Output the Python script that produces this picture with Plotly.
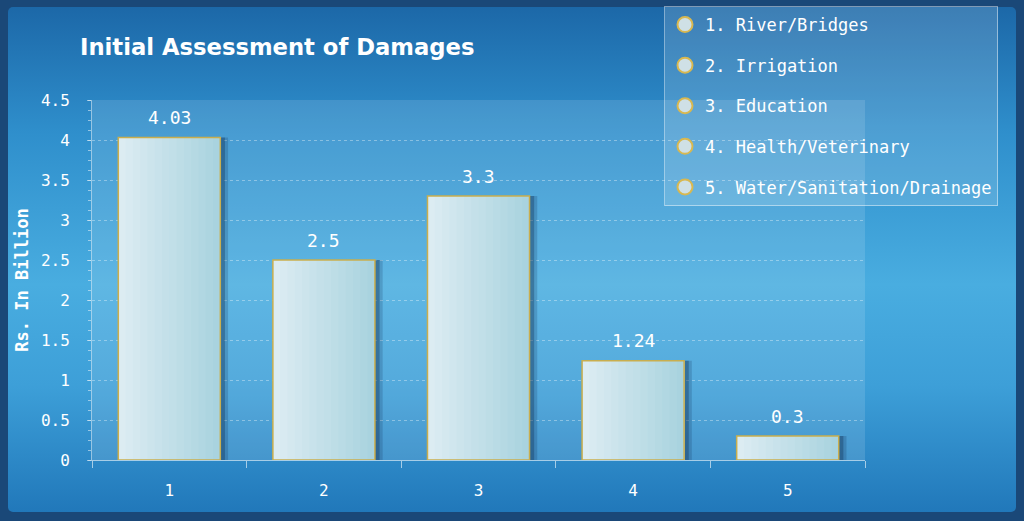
import base64
import plotly.graph_objects as go

# ---- data ----
categories = ["1", "2", "3", "4", "5"]
values = [4.03, 2.5, 3.3, 1.24, 0.3]
value_labels = ["4.03", "2.5", "3.3", "1.24", "0.3"]
legend_names = ["1. River/Bridges", "2. Irrigation", "3. Education",
                "4. Health/Veterinary", "5. Water/Sanitation/Drainage"]
y_ticks = [0, 0.5, 1, 1.5, 2, 2.5, 3, 3.5, 4, 4.5]
y_tick_labels = ["0", "0.5", "1", "1.5", "2", "2.5", "3", "3.5", "4", "4.5"]

W, H = 1024, 521
L, R, T, B = 92, 865, 100, 460

FONT = "DejaVu Sans Mono"

# background gradient as SVG image
svg = f'''<svg xmlns="http://www.w3.org/2000/svg" width="{W}" height="{H}" viewBox="0 0 {W} {H}" preserveAspectRatio="none">
<defs>
<linearGradient id="g" x1="0" y1="0" x2="0" y2="1">
<stop offset="0" stop-color="#1c68a8"/>
<stop offset="0.25" stop-color="#2f8fcc"/>
<stop offset="0.55" stop-color="#49ade0"/>
<stop offset="0.75" stop-color="#3d9fd8"/>
<stop offset="1" stop-color="#2178ba"/>
</linearGradient>
</defs>
<rect x="0" y="0" width="{W}" height="{H}" fill="#1a4878"/>
<rect x="8" y="7" width="1008" height="505" rx="5" ry="5" fill="url(#g)"/>
</svg>'''
svg_uri = "data:image/svg+xml;base64," + base64.b64encode(svg.encode()).decode()

pw, ph = R - L, B - T
def px(x):
    return (x - L) / pw
def py(y):
    return (B - y) / ph

fig = go.Figure()

bar_w = 0.66
# soft shadow (two layers)
for off, alpha in [(0.05, 0.18), (0.03, 0.3)]:
    fig.add_trace(go.Bar(x=categories, y=values, width=bar_w, offset=-bar_w / 2 + off,
                         marker=dict(color=f"rgba(10,35,70,{alpha})", line=dict(width=0)),
                         showlegend=False, hoverinfo="skip"))
# horizontal gradient: overlapping strips, each extending to the right edge
N = 14
c0 = (0xdc, 0xec, 0xf2)
c1 = (0xa9, 0xd3, 0xdf)
for i in range(N):
    t = i / (N - 1)
    col = "rgb(%d,%d,%d)" % tuple(round(a + (b - a) * t) for a, b in zip(c0, c1))
    fig.add_trace(go.Bar(x=categories, y=values, width=bar_w - i * bar_w / N,
                         offset=-bar_w / 2 + i * bar_w / N,
                         marker=dict(color=col, line=dict(width=0)),
                         showlegend=False, hoverinfo="skip"))
# outline
fig.add_trace(go.Bar(x=categories, y=values, width=bar_w, offset=-bar_w / 2,
                     marker=dict(color="rgba(0,0,0,0)", line=dict(color="#c9ae4e", width=1.5)),
                     showlegend=False))

# legend entries
for name in legend_names:
    fig.add_trace(go.Scatter(x=[None], y=[None], mode="markers", name=name,
                             legendgroup=name,
                             marker=dict(symbol="circle", size=15, color="#cfe0e6",
                                         line=dict(color="#d8b850", width=2))))

annotations = [dict(x=i, y=v, text=t, showarrow=False, yshift=20,
                    font=dict(family=FONT, size=18, color="white"))
               for i, (v, t) in enumerate(zip(values, value_labels))]

fig.update_layout(
    width=W, height=H,
    margin=dict(l=L, r=W - R, t=T, b=H - B, pad=0, autoexpand=False),
    paper_bgcolor="#1a4878",
    plot_bgcolor="rgba(0,0,0,0)",
    barmode="overlay",
    font=dict(family=FONT, color="white"),
    title=dict(text="<b>Initial Assessment of Damages</b>", x=80 / W, xanchor="left",
               y=1 - 47 / H, yanchor="middle",
               font=dict(family="DejaVu Sans", size=22.7, color="white")),
    images=[dict(source=svg_uri, xref="paper", yref="paper",
                 x=px(0), y=py(0), sizex=W / pw, sizey=H / ph,
                 sizing="stretch", xanchor="left", yanchor="top", layer="below")],
    shapes=[dict(type="rect", xref="paper", yref="paper", x0=0, x1=1, y0=0, y1=1,
                 fillcolor="rgba(255,255,255,0.12)", line=dict(width=0), layer="below")],
    annotations=annotations,
    xaxis=dict(range=[-0.5, 4.5], showgrid=False, zeroline=False, automargin=False,
               showline=True, linecolor="rgba(220,235,245,0.7)", linewidth=1,
               ticks="outside", ticklen=7, tickcolor="rgba(220,235,245,0.7)",
               tickson="boundaries", ticklabelstandoff=16,
               tickfont=dict(family=FONT, size=16, color="white")),
    yaxis=dict(range=[0, 4.5], tickvals=y_ticks, ticktext=y_tick_labels, automargin=False,
               showgrid=True, gridcolor="rgba(255,255,255,0.35)", griddash="dot",
               zeroline=False, showline=True, linecolor="rgba(220,235,245,0.6)",
               ticks="outside", ticklen=4, tickcolor="rgba(220,235,245,0.6)",
               minor=dict(dtick=0.125, ticks="outside", ticklen=3,
                          tickcolor="rgba(220,235,245,0.6)", showgrid=False),
               ticklabelstandoff=14,
               tickfont=dict(family=FONT, size=16, color="white"),
               title=dict(text="<b>Rs. In Billion</b>", standoff=7,
                          font=dict(family=FONT, size=17, color="white"))),
    legend=dict(xref="container", yref="container", x=664 / W, y=1 - 6 / H,
                xanchor="left", yanchor="top",
                bgcolor="rgba(255,255,255,0.15)", bordercolor="rgba(255,255,255,0.45)",
                borderwidth=1, tracegroupgap=15.5,
                font=dict(family=FONT, size=17, color="white"),
                itemwidth=30, entrywidth=300, entrywidthmode="pixels"),
)

fig.write_html("out.html", config={"displayModeBar": False},
               post_script="document.body.style.margin='0';document.body.style.overflow='hidden';")
